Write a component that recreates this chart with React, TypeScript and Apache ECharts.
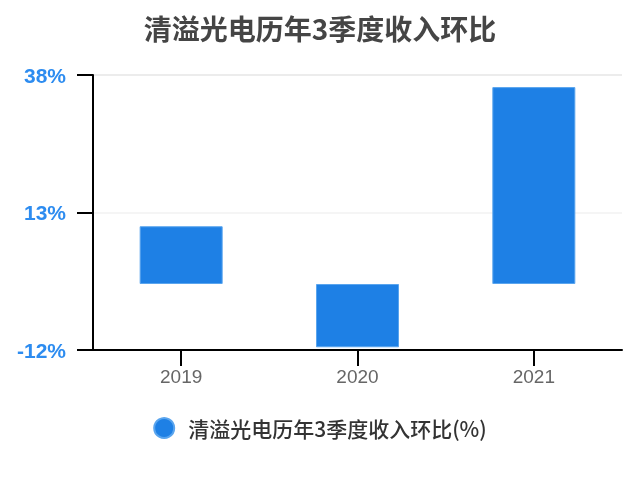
import React, { useEffect, useRef } from "react";
import * as echarts from "echarts";

const title = "清溢光电历年3季度收入环比";
const seriesName = "清溢光电历年3季度收入环比(%)";
const categories = ["2019", "2020", "2021"];
const values = [10.5, -11.5, 35.8];
const yMin = -12;
const yMax = 38;
const yStep = 25;

export default function App() {
  const ref = useRef<HTMLDivElement>(null);
  useEffect(() => {
    if (!ref.current) return;
    const chart = echarts.init(ref.current, null, { renderer: "svg" });
    chart.setOption({
      animation: false,
      title: {
        text: title,
        left: "center",
        top: 9,
        textStyle: {
          fontFamily: "Noto Sans CJK SC",
          fontSize: 28,
          fontWeight: "bold",
          color: "#454545",
        },
      },
      legend: {
        data: [seriesName],
        bottom: 33,
        left: "center",
        icon: "circle",
        itemWidth: 20,
        itemHeight: 20,
        itemGap: 10,
        textStyle: {
          fontFamily: "Noto Sans CJK SC",
          fontSize: 21,
          fontWeight: 500,
          color: "#333",
          padding: [0, 0, 0, 9],
        },
      },
      grid: { left: 93, right: 18, top: 75, bottom: 127, containLabel: false },
      xAxis: {
        type: "category",
        data: categories,
        axisLine: { show: true, onZero: false, lineStyle: { color: "#000", width: 2 } },
        axisTick: { show: true, alignWithLabel: true, length: 16, lineStyle: { color: "#000", width: 2 } },
        axisLabel: {
          margin: 17,
          fontFamily: "Liberation Sans",
          fontSize: 19,
          color: "#666",
        },
      },
      yAxis: {
        type: "value",
        min: yMin,
        max: yMax,
        interval: yStep,
        axisLine: { show: true, lineStyle: { color: "#000", width: 2 } },
        axisTick: { show: true, length: 16, lineStyle: { color: "#000", width: 2 } },
        axisLabel: {
          formatter: (v: number) => `${v}%`,
          margin: 27,
          fontFamily: "Liberation Sans",
          fontSize: 21,
          fontWeight: "bold",
          color: "#2d8cf0",
        },
        splitLine: { show: true, lineStyle: { color: ["#e0e0e0", "#f2f2f2", "#e6e6e6"], width: 1.5 } },
      },
      series: [
        {
          name: seriesName,
          type: "bar",
          data: values,
          barWidth: 83,
          itemStyle: { color: "#1e80e5", borderColor: "#5aa5ee", borderWidth: 1 },
        },
      ],
    });
    return () => chart.dispose();
  }, []);
  return <div ref={ref} style={{ position: "fixed", left: 0, top: 0, width: 640, height: 477 }} />;
}
